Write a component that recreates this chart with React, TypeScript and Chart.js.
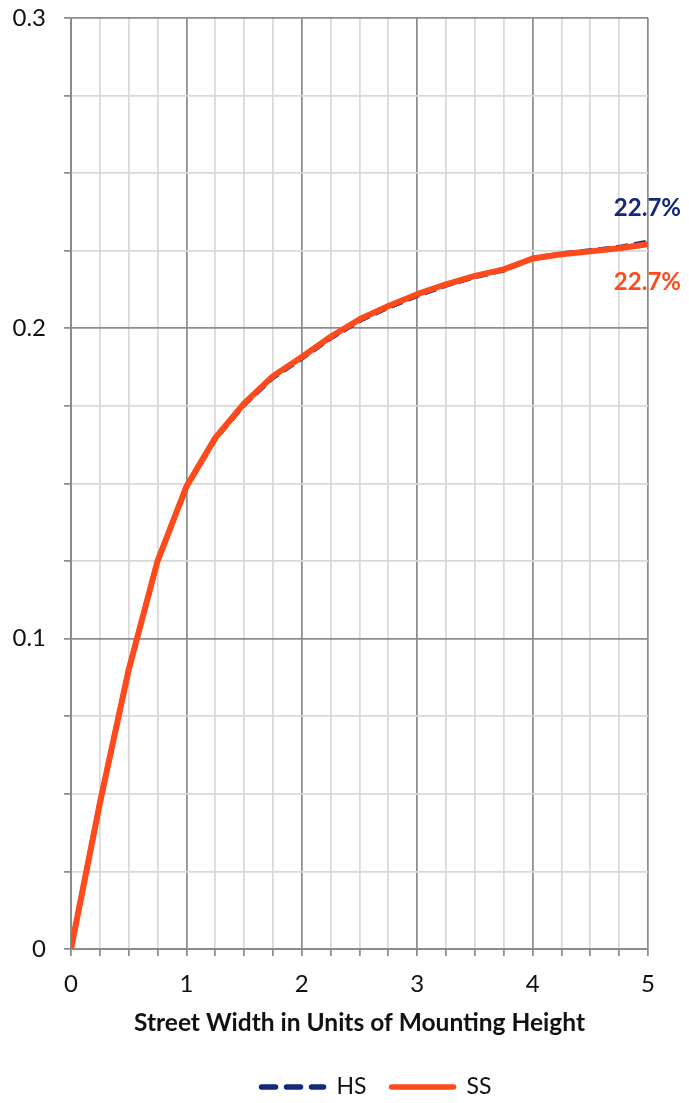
import React, { useEffect, useRef } from 'react';
import { Chart, registerables } from 'chart.js';

Chart.register(...registerables);

const xValues = [0, 0.25, 0.5, 0.75, 1, 1.25, 1.5, 1.75, 2, 2.25, 2.5, 2.75, 3, 3.25, 3.5, 3.75, 4, 4.25, 4.5, 4.75, 5];
const hsValues = [0, 0.047, 0.090, 0.125, 0.149, 0.1644, 0.1755, 0.1842, 0.1904, 0.1969, 0.2025, 0.2068, 0.2106, 0.2139, 0.2166, 0.2188, 0.2225, 0.2240, 0.2250, 0.2261, 0.2278];
const ssValues = [0, 0.047, 0.090, 0.125, 0.149, 0.1647, 0.1758, 0.1846, 0.1908, 0.1973, 0.2029, 0.2072, 0.2110, 0.2142, 0.2169, 0.2190, 0.2225, 0.2239, 0.2248, 0.2258, 0.2271];
const seriesNames = ['HS', 'SS'];
const endLabels = ['22.7%', '22.7%'];
const xTitle = 'Street Width in Units of Mounting Height';

const NAVY = '#13287a';
const ORANGE = '#ff4b1c';
const MAJOR = '#8c8c8c';
const MINOR = '#d9d9d9';
const FONT = 'Lato, "Open Sans", sans-serif';

const overlay = {
  id: 'overlay',
  afterDatasetsDraw(chart: any) {
    const ctx = chart.ctx;
    ctx.save();
    ctx.font = `bold 24px ${FONT}`;
    ctx.textAlign = 'right';
    ctx.textBaseline = 'middle';
    const hsMeta = chart.getDatasetMeta(0);
    const ssMeta = chart.getDatasetMeta(1);
    const hp = hsMeta.data[hsMeta.data.length - 1];
    const sp = ssMeta.data[ssMeta.data.length - 1];
    ctx.fillStyle = NAVY;
    ctx.fillText(endLabels[0], 681, hp.y - 34);
    ctx.fillStyle = ORANGE;
    ctx.fillText(endLabels[1], 681, sp.y + 38);
    ctx.restore();
  },
  afterDraw(chart: any) {
    const ctx = chart.ctx;
    ctx.save();
    ctx.font = `23px ${FONT}`;
    ctx.textBaseline = 'middle';
    ctx.textAlign = 'left';
    const y = 1087;
    const lineW = 68;
    const gap = 10;
    const itemGap = 22;
    const ds = chart.data.datasets;
    const widths = ds.map((d: any) => lineW + gap + ctx.measureText(d.label).width);
    const total = widths.reduce((a: number, b: number) => a + b, 0) + itemGap * (ds.length - 1);
    let x = 375 - total / 2;
    ds.forEach((d: any, i: number) => {
      ctx.beginPath();
      ctx.lineCap = 'round';
      ctx.lineWidth = 5.5;
      ctx.strokeStyle = d.borderColor;
      ctx.setLineDash(d.borderDash && d.borderDash.length ? [14, 11] : []);
      ctx.moveTo(x + 3, y);
      ctx.lineTo(x + lineW - 3, y);
      ctx.stroke();
      ctx.setLineDash([]);
      ctx.fillStyle = '#111';
      ctx.fillText(d.label, x + lineW + gap, y);
      x += widths[i] + itemGap;
    });
    ctx.restore();
  },
};

export default function App() {
  const ref = useRef<HTMLCanvasElement | null>(null);
  useEffect(() => {
    if (!ref.current) return;
    const chart = new Chart(ref.current, {
      type: 'line',
      data: {
        datasets: [
          {
            label: seriesNames[0],
            data: xValues.map((x, i) => ({ x, y: hsValues[i] })),
            borderColor: NAVY,
            borderWidth: 5,
            borderDash: [12, 6],
            pointRadius: 0,
            tension: 0,
            fill: false,
            order: 2,
          },
          {
            label: seriesNames[1],
            data: xValues.map((x, i) => ({ x, y: ssValues[i] })),
            borderColor: ORANGE,
            borderWidth: 6,
            pointRadius: 0,
            tension: 0,
            fill: false,
            borderCapStyle: 'round',
            borderJoinStyle: 'round',
            order: 1,
          },
        ],
      },
      options: {
        responsive: false,
        animation: false,
        devicePixelRatio: 1,
        layout: { padding: { top: 18, right: 41, bottom: 65, left: 0 } },
        plugins: { legend: { display: false }, tooltip: { enabled: false }, title: { display: false } },
        scales: {
          x: {
            type: 'linear',
            min: 0,
            max: 5,
            afterFit: (s: any) => { s.height = 89; s.paddingLeft = 0; s.paddingRight = 0; },
            ticks: {
              stepSize: 0.25,
              autoSkip: false,
              maxRotation: 0,
              padding: 14,
              color: '#111',
              font: { family: FONT, size: 24 },
              callback: (v: any) => (Math.abs(v - Math.round(v)) < 1e-6 ? String(Math.round(v)) : ''),
            },
            grid: {
              color: (c: any) => (c.tick && Math.abs(c.tick.value - Math.round(c.tick.value)) < 1e-6 ? MAJOR : MINOR),
              tickColor: MAJOR,
              lineWidth: 1.75,
              tickLength: 7,
            },
            border: { color: MAJOR, width: 2 },
            title: {
              display: true,
              text: xTitle,
              color: '#111',
              font: { family: FONT, size: 24.5, weight: 'bold' },
              padding: 0,
            },
          },
          y: {
            type: 'linear',
            min: 0,
            max: 0.3,
            afterFit: (s: any) => { s.width = 71; s.paddingTop = 0; s.paddingBottom = 0; },
            ticks: {
              stepSize: 0.025,
              autoSkip: false,
              padding: 18,
              color: '#111',
              font: { family: FONT, size: 24 },
              callback: (v: any) => {
                const r = Math.round(v * 10) / 10;
                return Math.abs(v - r) < 1e-6 ? String(r) : '';
              },
            },
            grid: {
              color: (c: any) => {
                const v = c.tick ? c.tick.value : 0;
                return Math.abs(v * 10 - Math.round(v * 10)) < 1e-6 ? MAJOR : MINOR;
              },
              tickColor: MAJOR,
              lineWidth: 1.75,
              tickLength: 7,
            },
            border: { color: MAJOR, width: 2 },
          },
        },
      },
      plugins: [overlay],
    });
    return () => chart.destroy();
  }, []);
  return (
    <div style={{ position: 'fixed', left: 0, top: 0, width: 689, height: 1103, background: '#fff' }}>
      <canvas ref={ref} width={689} height={1103} style={{ display: 'block', width: 689, height: 1103 }} />
    </div>
  );
}
